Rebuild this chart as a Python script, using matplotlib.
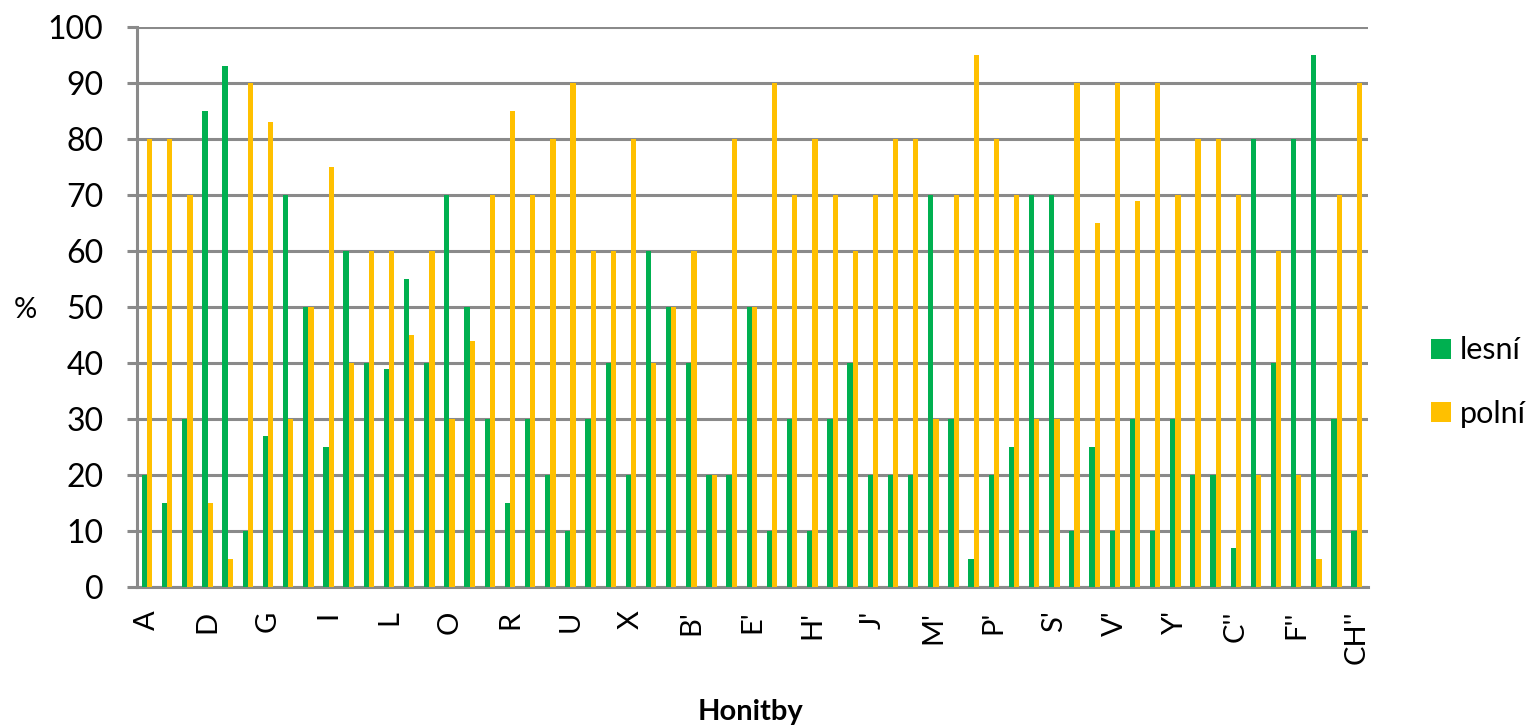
import numpy as np
from matplotlib import pyplot as plt

# honitby (hunting grounds), Czech alphabet order without Z
categories = ["A", "B", "C", "D", "E", "F", "G", "H", "CH", "I", "J", "K", "L", "M", "N",
              "O", "P", "Q", "R", "S", "T", "U", "V", "W", "X", "Y",
              "A'", "B'", "C'", "D'", "E'", "F'", "G'", "H'", "CH'", "I'", "J'", "K'", "L'",
              "M'", "N'", "O'", "P'", "Q'", "R'", "S'", "T'", "U'", "V'", "W'", "X'", "Y'",
              "A''", "B''", "C''", "D''", "E''", "F''", "G''", "H''", "CH''"]

lesni = [20, 15, 30, 85, 93, 10, 27, 70, 50, 25, 60, 40, 39, 55, 40,
         70, 50, 30, 15, 30, 20, 10, 30, 40, 20, 60,
         50, 40, 20, 20, 50, 10, 30, 10, 30, 40, 20, 20, 20,
         70, 30, 5, 20, 25, 70, 70, 10, 25, 10, 30, 10, 30,
         20, 20, 7, 80, 40, 80, 95, 30, 10]

polni = [80, 80, 70, 15, 5, 90, 83, 30, 50, 75, 40, 60, 60, 45, 60,
         30, 44, 70, 85, 70, 80, 90, 60, 60, 80, 40,
         50, 60, 20, 80, 50, 90, 70, 80, 70, 60, 70, 80, 80,
         30, 70, 95, 80, 70, 30, 30, 90, 65, 90, 69, 90, 70,
         80, 80, 70, 20, 60, 20, 5, 70, 90]

GREEN = '#00B050'
YELLOW = '#FFC000'
GRID = '#8A8A8A'
FONT = 'Lato'

def main():
    plt.rcParams['font.family'] = [FONT, 'DejaVu Sans']

    fig = plt.figure(figsize=(15.33, 7.28), dpi=100)
    # plot area: x 137..1368 px, y 27..587 px
    ax = fig.add_axes([137/1533, 1 - 587/728, (1368 - 137)/1533, (587 - 27)/728])

    x = np.arange(len(categories))
    w = 0.26
    ax.bar(x - w/2, lesni, width=w, color=GREEN, label='lesní', zorder=3)
    ax.bar(x + w/2, polni, width=w, color=YELLOW, label='polní', zorder=3)

    ax.set_xlim(-0.5, len(categories) - 0.44)
    ax.set_ylim(0, 100)
    ax.set_yticks(range(0, 101, 10))
    ax.yaxis.grid(True, color=GRID, linewidth=2.2, zorder=0)
    ax.set_axisbelow(True)

    ticks = x[::3]
    ax.set_xticks(ticks)
    ax.set_xticklabels([categories[i] for i in ticks], rotation=90, fontsize=21)
    ax.tick_params(axis='x', length=0, pad=17)
    ax.tick_params(axis='y', length=7.2, width=2.2, color=GRID, labelsize=23, pad=17)

    for side in ['top', 'right']:
        ax.spines[side].set_visible(False)
    for side in ['left', 'bottom']:
        ax.spines[side].set_color(GRID)
        ax.spines[side].set_linewidth(2.2)

    fig.text(0.009, 1 - 310/728, '%', fontsize=21, va='center', ha='left')
    fig.text(750/1533, 1 - 712/728, 'Honitby', fontsize=21, fontweight='bold',
             ha='center', va='center')

    fig.legend(loc='center left', bbox_to_anchor=(1431/1533, 1 - 382/728), frameon=False,
               fontsize=22, handlelength=0.65, handleheight=0.65, handletextpad=0.3,
               labelspacing=1.15, borderpad=0, borderaxespad=0)

    plt.savefig('out.png', dpi=100)

if __name__ == '__main__':
    main()
